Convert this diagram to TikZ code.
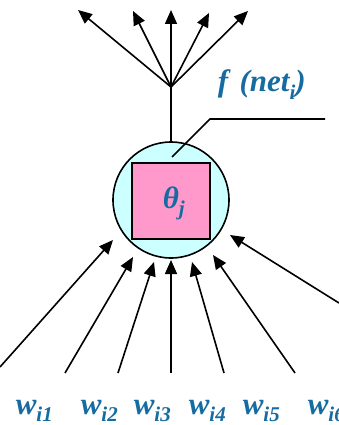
\documentclass[tikz,border=0pt]{standalone}
\usepackage{fontspec}
\setmainfont{Liberation Serif}
\usetikzlibrary{arrows.meta}
\definecolor{lblblue}{RGB}{22,108,160}
\definecolor{cellpink}{RGB}{255,153,204}
\definecolor{bodycyan}{RGB}{204,255,255}
\newcommand\lowsub[1]{\raisebox{-0.25em}[\height][0pt]{\fontsize{21}{21}\selectfont #1}}
\begin{document}
\begin{tikzpicture}[x=1pt,y=-1pt, line width=1.6pt,
  arr/.style={-{Triangle[length=14pt,width=12pt]}},
  lbl/.style={text=lblblue, font=\fontsize{31}{33}\selectfont\bfseries\itshape, inner sep=0pt},
]
\useasboundingbox (0,0) rectangle (339,425);
% neuron body
\node[circle, draw, fill=bodycyan, minimum size=116pt, inner sep=0pt] (body) at (171,200) {};
\node[draw, fill=cellpink, minimum width=78pt, minimum height=76pt, inner sep=0pt] (theta) at (171,201) {};
\node[lbl, anchor=base west] (thetalbl) at (162,208) {θ\lowsub{j}};
% output fan
\coordinate (fan) at (171,87);
\coordinate (o1) at (78,10);
\coordinate (o2) at (133,11);
\coordinate (o3) at (171,10);
\coordinate (o4) at (209,13);
\coordinate (o5) at (248,11);
\draw (body.north) -- (fan);
\foreach \i in {1,...,5} \draw[arr] (fan) -- (o\i);
% label f(net_i) with leader
\node[lbl, anchor=base west] (flbl) at (217,92) {f\hspace{0.12em} (net\lowsub{i})};
\coordinate (ldA) at (325,119);
\coordinate (ldB) at (210,119);
\coordinate (ldC) at (172,157);
\draw (ldA) -- (ldB) -- (ldC);
% inputs
\coordinate (s1) at (0,367);   \coordinate (t1) at (113,240);
\coordinate (s2) at (65,373);  \coordinate (t2) at (133,257);
\coordinate (s3) at (118,373); \coordinate (t3) at (154,262);
\coordinate (s4) at (171,373); \coordinate (t4) at (171,260);
\coordinate (s5) at (224,373); \coordinate (t5) at (192,262);
\coordinate (s6) at (295,373); \coordinate (t6) at (213,255);
\coordinate (s7) at (339,303); \coordinate (t7) at (230,235);
\foreach \i in {1,...,7} \draw[arr] (s\i) -- (t\i);
% weight labels
\node[lbl, anchor=base west] (w1) at (15,414) {w\lowsub{i1}};
\node[lbl, anchor=base west] (w2) at (80,414) {w\lowsub{i2}};
\node[lbl, anchor=base west] (w3) at (133,414) {w\lowsub{i3}};
\node[lbl, anchor=base west] (w4) at (188,414) {w\lowsub{i4}};
\node[lbl, anchor=base west] (w5) at (242,414) {w\lowsub{i5}};
\node[lbl, anchor=base west] (w6) at (307,414) {w\lowsub{i6}};
\end{tikzpicture}
\end{document}
